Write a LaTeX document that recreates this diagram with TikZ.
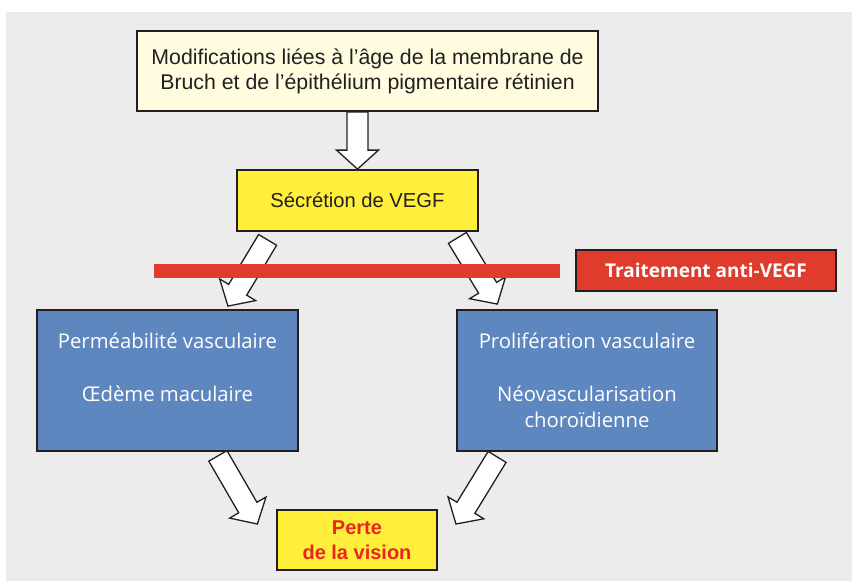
\documentclass[tikz,border=0pt]{standalone}
\usepackage{fontspec}
\setmainfont{Liberation Sans}
\newfontfamily\opensans{Open Sans}
\usetikzlibrary{calc}
\definecolor{bggrey}{HTML}{ECECEC}
\definecolor{cream}{HTML}{FFFCE0}
\definecolor{vyellow}{HTML}{FFEF3A}
\definecolor{vred}{HTML}{E03C2D}
\definecolor{vblue}{HTML}{5E87C0}
\definecolor{txtred}{HTML}{E8261F}
\definecolor{ink}{HTML}{231F20}
\pgfdeclarelayer{bglayer}
\pgfdeclarelayer{arrowlayer}
\pgfsetlayers{bglayer,arrowlayer,main}
\tikzset{
  boxstyle/.style={draw=ink, line width=1.8pt, inner sep=0pt, align=center},
  lightbox/.style={boxstyle, fill=cream, text=ink},
  yellowbox/.style={boxstyle, fill=vyellow, text=ink},
  bluebox/.style={boxstyle, fill=vblue, text=white},
  redbox/.style={boxstyle, fill=vred, text=white},
  blockarrow/.style={draw=ink, line width=1.3pt, fill=white, line join=miter},
}
\newcommand\blockarr[2]{%
  \draw[blockarrow] let \p1=(#1), \p2=(#2),
    \n1={atan2(\y2-\y1,\x2-\x1)}, \n2={veclen(\x2-\x1,\y2-\y1)} in
    [shift={(\p1)}, rotate=\n1]
    (0pt,10.5pt) -- ({(\n2-19)*1pt},10.5pt) -- ({(\n2-19)*1pt},21pt) -- ({\n2*1pt},0pt)
    -- ({(\n2-19)*1pt},-21pt) -- ({(\n2-19)*1pt},-10.5pt) -- (0pt,-10.5pt) -- cycle;}
\begin{document}
\begin{tikzpicture}[x=1pt, y=-1pt]
\begin{pgfonlayer}{bglayer}
  \fill[white] (0,0) rectangle (852,581);
  \fill[bggrey] (6,12) rectangle (852,581);
\end{pgfonlayer}
\useasboundingbox (0,0) rectangle (852,581);

\node[lightbox, minimum width=461pt, minimum height=80pt,
  font=\fontsize{21.3pt}{25pt}\selectfont] (top) at (367.5,71)
  {Modifications liées à l’âge de la membrane de\\Bruch et de l’épithélium pigmentaire rétinien};
\node[yellowbox, minimum width=241pt, minimum height=61pt,
  font=\fontsize{20.2pt}{24pt}\selectfont] (sec) at (357.5,200.5) {Sécrétion de VEGF};
\node[redbox, minimum width=260pt, minimum height=41pt,
  font=\opensans\bfseries\fontsize{19pt}{21pt}\selectfont] (trt) at (706,270.5) {Traitement anti-VEGF};
\node[bluebox, minimum width=261pt, minimum height=141pt,
  font=\opensans\fontsize{20.3pt}{26.5pt}\selectfont] (perm) at (167.5,380.5)
  {Perméabilité vasculaire\\\mbox{}\\Œdème maculaire\\\mbox{}};
\node[bluebox, minimum width=260pt, minimum height=141pt,
  font=\opensans\fontsize{20.3pt}{26.5pt}\selectfont] (prol) at (587,380.5)
  {Prolifération vasculaire\\\mbox{}\\Néovascularisation\\choroïdienne};
\node[yellowbox, minimum width=160pt, minimum height=60pt, text=txtred,
  font=\bfseries\fontsize{20pt}{25pt}\selectfont] (perte) at (357,540) {Perte\\de la vision};

% red bar
\node[fill=vred, minimum width=406pt, minimum height=13.5pt, inner sep=0pt] (bar) at (357,271) {};

% arrow end points
\coordinate (a0s) at (top.south -| sec.north);
\coordinate (a1s) at ($(sec.south west)+(31.5,8)$);
\coordinate (a1e) at ($(perm.north east)+(-71,-3)$);
\coordinate (a2s) at ($(sec.south east)+(-21.5,6)$);
\coordinate (a2e) at ($(prol.north west)+(41.3,-5)$);
\coordinate (a3s) at ($(perm.south east)+(-81,4)$);
\coordinate (a3e) at ($(perte.north west)+(-18.7,15)$);
\coordinate (a4s) at ($(prol.south west)+(41,5)$);
\coordinate (a4e) at ($(perte.north east)+(18,15)$);

\begin{pgfonlayer}{arrowlayer}
  \blockarr{a0s}{sec.north}
  \blockarr{a1s}{a1e}
  \blockarr{a2s}{a2e}
  \blockarr{a3s}{a3e}
  \blockarr{a4s}{a4e}
\end{pgfonlayer}
\end{tikzpicture}
\end{document}
